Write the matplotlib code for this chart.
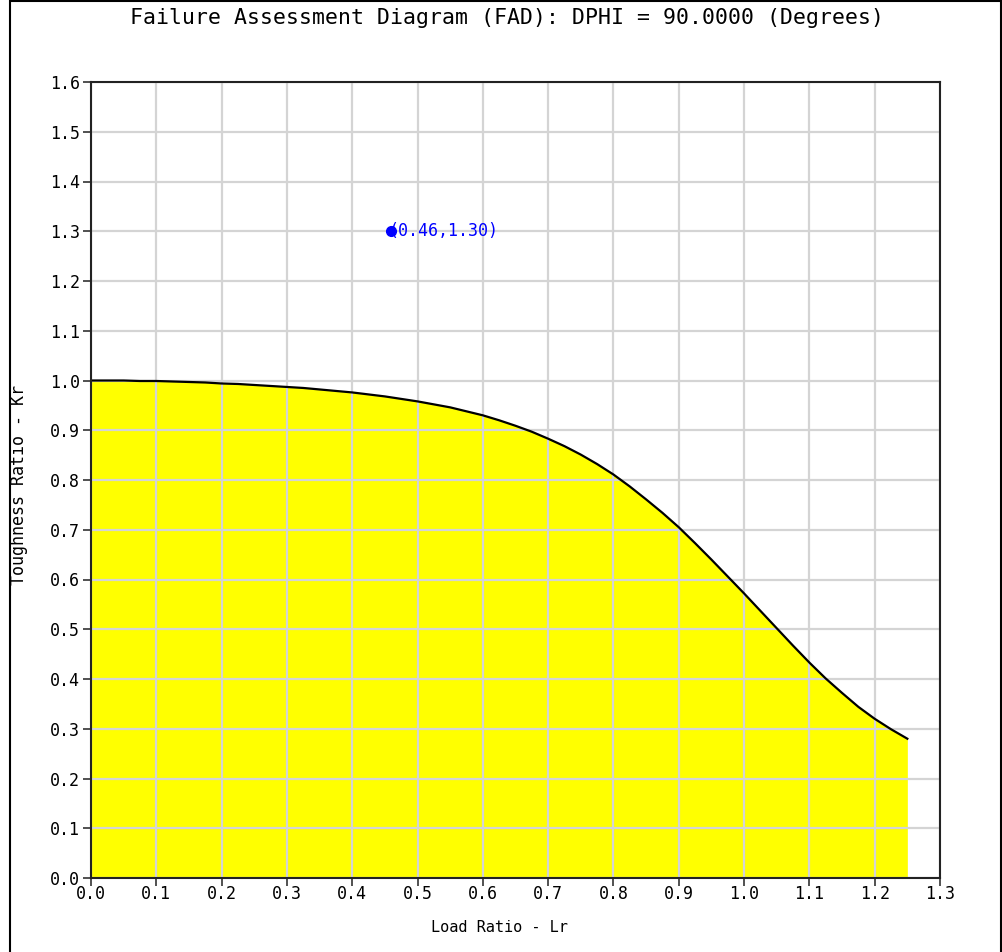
import matplotlib
matplotlib.use("Agg")
import matplotlib.pyplot as plt
from matplotlib.patches import Rectangle

# FAD curve
lr = [0.000, 0.025, 0.050, 0.075, 0.100, 0.125, 0.150, 0.175, 0.200, 0.225,
      0.250, 0.275, 0.300, 0.325, 0.350, 0.375, 0.400, 0.425, 0.450, 0.475,
      0.500, 0.525, 0.550, 0.575, 0.600, 0.625, 0.650, 0.675, 0.700, 0.725,
      0.750, 0.775, 0.800, 0.825, 0.850, 0.875, 0.900, 0.925, 0.950, 0.975,
      1.000, 1.025, 1.050, 1.075, 1.100, 1.125, 1.150, 1.175, 1.200, 1.225,
      1.250]
kr = [1.000, 1.000, 1.000, 0.999, 0.999, 0.998, 0.997, 0.996, 0.994, 0.993,
      0.991, 0.989, 0.987, 0.985, 0.982, 0.979, 0.976, 0.972, 0.968, 0.963,
      0.958, 0.952, 0.946, 0.938, 0.930, 0.920, 0.909, 0.897, 0.883, 0.868,
      0.851, 0.832, 0.811, 0.787, 0.761, 0.734, 0.705, 0.673, 0.640, 0.606,
      0.572, 0.537, 0.502, 0.467, 0.433, 0.401, 0.372, 0.344, 0.320, 0.299,
      0.280]

pt_x = [0.46]
pt_y = [1.30]
pt_label = "(0.46,1.30)"

xticks = [0.0, 0.1, 0.2, 0.3, 0.4, 0.5, 0.6, 0.7, 0.8, 0.9, 1.0, 1.1, 1.2, 1.3]
yticks = [0.0, 0.1, 0.2, 0.3, 0.4, 0.5, 0.6, 0.7, 0.8, 0.9, 1.0, 1.1, 1.2, 1.3, 1.4, 1.5, 1.6]

title = "Failure Assessment Diagram (FAD): DPHI = 90.0000 (Degrees)"
xlabel = "Load Ratio - Lr"
ylabel = "Toughness Ratio - Kr"

MONO = "DejaVu Sans Mono"

fig = plt.figure(figsize=(10.03, 9.52), dpi=100)
ax = fig.add_axes([91/1003, 1-878/952, (940-91)/1003, (878-82)/952])

ax.fill_between(lr, 0, kr, color="#ffff00", zorder=1, linewidth=0)
ax.plot(lr, kr, color="black", lw=1.6, zorder=3)
ax.plot(pt_x, pt_y, "o", color="blue", ms=7, zorder=4)
ax.text(pt_x[0] - 0.005, pt_y[0], pt_label, color="blue", fontsize=12,
        family=MONO, va="center", ha="left", zorder=5)

ax.set_xlim(0, 1.3)
ax.set_ylim(0, 1.6)
ax.set_xticks(xticks)
ax.set_yticks(yticks)
ax.set_xticklabels([f"{v:.1f}" for v in xticks], family=MONO, fontsize=12)
ax.set_yticklabels([f"{v:.1f}" for v in yticks], family=MONO, fontsize=12)
ax.tick_params(axis="both", direction="out", length=6, width=1.2, color="#333333")
ax.tick_params(axis="x", pad=-1)
ax.tick_params(axis="y", pad=2)
ax.grid(True, color="#d4d4d4", lw=1.6, zorder=2)
ax.set_axisbelow(False)
for s in ax.spines.values():
    s.set_linewidth(1.5)
    s.set_color("#222222")
    s.set_zorder(6)

fig.text(507/1003, 1-18/952, title, ha="center", va="center", fontsize=15.5, family=MONO)
fig.text(499/1003, 1-927/952, xlabel, ha="center", va="center", fontsize=11, family=MONO)
fig.text(19/1003, 1-485/952, ylabel, ha="center", va="center", rotation=90, fontsize=12, family=MONO)

fig.patches.append(Rectangle((10/1003, -0.01), (1001-10)/1003, 1.0 - 1/952 + 0.01,
                             transform=fig.transFigure, fill=False, ec="black", lw=1.5))

fig.savefig("out.png", dpi=100)
